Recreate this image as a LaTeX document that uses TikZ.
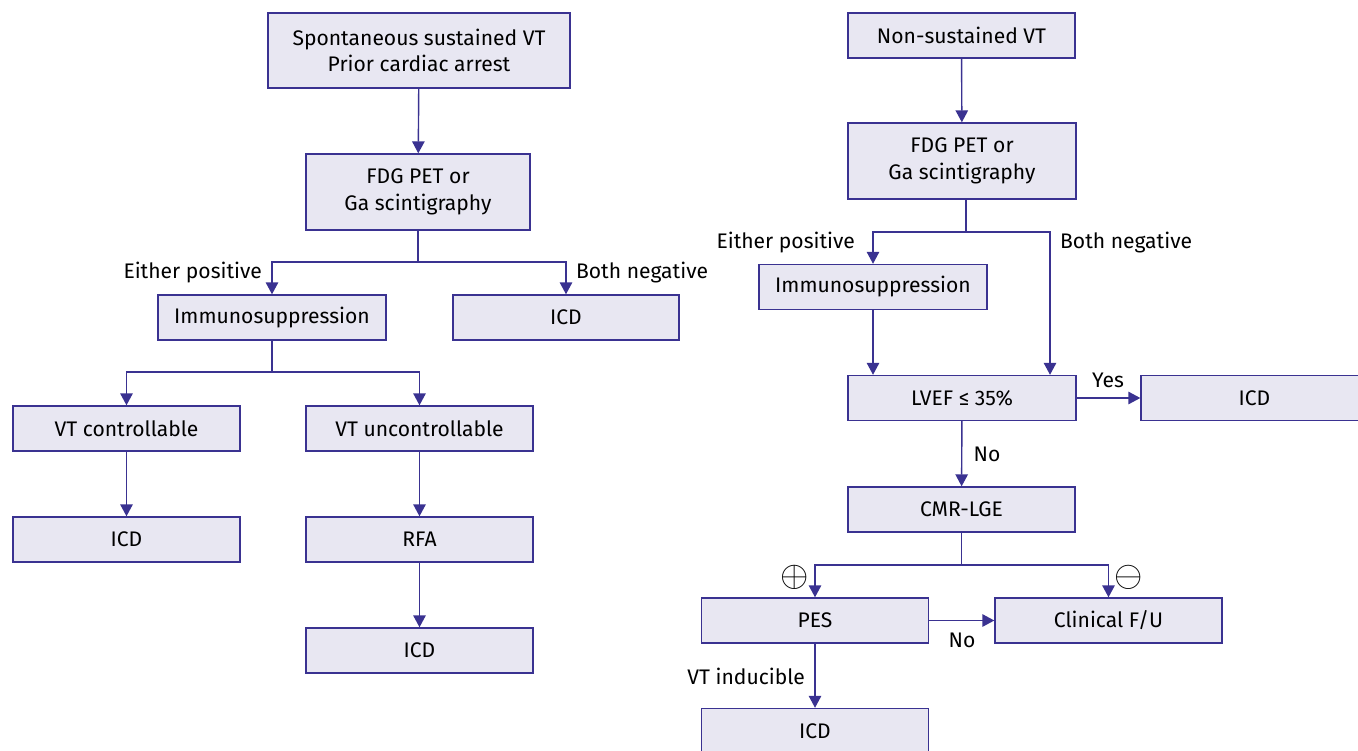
\documentclass[tikz,border=0pt]{standalone}
\usepackage{fontspec}
\setmainfont{Fira Sans}
\usepackage{tikz}
\usetikzlibrary{arrows.meta}

\definecolor{boxline}{RGB}{58,50,145}
\definecolor{boxfill}{RGB}{232,231,242}

\begin{document}
\begin{tikzpicture}[x=0.02cm, y=-0.02cm,
	stepbox/.style={fill=boxfill, draw=boxline, line width=.8pt, minimum width=4.54cm, minimum height=0.9cm, inner sep=0pt, align=center, font=\fontsize{12}{15}\selectfont},
	lbl/.style={font=\fontsize{12}{15}\selectfont, inner sep=1pt},
	arr/.style={draw=boxline, line width=.8pt, -{Triangle[length=0.24cm, width=0.25cm]}},
	ln/.style={draw=boxline, line width=.8pt}]
	\useasboundingbox (0,0) rectangle (1358,750);
	% left branch
	\draw (419,50.5) node[stepbox, minimum width=6.04cm, minimum height=1.5cm] (sust) {Spontaneous sustained VT\\Prior cardiac arrest};
	\draw (418,192) node[stepbox, minimum width=4.48cm, minimum height=1.52cm] (fdgL) {FDG PET or\\Ga scintigraphy};
	\draw (272,317.5) node[stepbox, minimum width=4.56cm] (immL) {Immunosuppression};
	\draw (566,317.5) node[stepbox, minimum width=4.52cm] (icdA) {ICD};
	\draw (126.5,428.5) node[stepbox] (vtc) {VT controllable};
	\draw (419.5,428.5) node[stepbox] (vtu) {VT uncontrollable};
	\draw (126.5,539.5) node[stepbox] (icdB) {ICD};
	\draw (419.5,539.5) node[stepbox] (rfa) {RFA};
	\draw (419.5,650.5) node[stepbox] (icdC) {ICD};
	\coordinate (sL) at (418,262);
	\coordinate (sI) at (272,372);
	\draw (sust) edge[arr] (fdgL);
	\draw[ln] (fdgL) -- (sL);
	\draw[arr] (sL) -| (immL);
	\draw[arr] (sL) -| (icdA);
	\draw[ln] (immL) -- (sI);
	\draw[arr] (sI) -| (vtc);
	\draw[arr] (sI) -| (vtu);
	\draw (vtc) edge[arr] (icdB);
	\draw (vtu) edge[arr] (rfa);
	\draw (rfa) edge[arr] (icdC);
	\draw (264,273) node[lbl, anchor=east] (eposL) {Either positive};
	\draw (574,273) node[lbl, anchor=west] (bnegL) {Both negative};
	% right branch
	\draw (961.5,35.5) node[stepbox] (nsvt) {Non-sustained VT};
	\draw (962,161) node[stepbox, minimum width=4.56cm, minimum height=1.52cm] (fdgR) {FDG PET or\\Ga scintigraphy};
	\draw (873,287) node[stepbox, minimum width=4.56cm] (immR) {Immunosuppression};
	\draw (962,398) node[stepbox, minimum width=4.56cm] (lvef) {LVEF ≤ 35\%};
	\draw (1254.5,398) node[stepbox] (icdD) {ICD};
	\draw (961.5,509.5) node[stepbox] (cmr) {CMR-LGE};
	\draw (815,620.5) node[stepbox] (pes) {PES};
	\draw (1108.5,620.5) node[stepbox] (cfu) {Clinical F/U};
	\draw (815,731) node[stepbox] (icdE) {ICD};
	\coordinate (sR) at (966,232);
	\coordinate (bR) at (1050,232);
	\coordinate (sC) at (961.5,565);
	\draw (nsvt) edge[arr] (fdgR);
	\draw[ln] (fdgR.south -| sR) -- (sR);
	\draw[arr] (sR) -| (immR);
	\draw[arr] (sR) -- (bR) -- (bR |- lvef.north);
	\draw[arr] (immR) -- (immR |- lvef.north);
	\draw (lvef) edge[arr] (icdD);
	\draw (lvef) edge[arr] (cmr);
	\draw[ln] (cmr) -- (sC);
	\draw[arr] (sC) -| (pes);
	\draw[arr] (sC) -| (cfu);
	\draw (pes) edge[arr] (cfu);
	\draw (pes) edge[arr] (icdE);
	\draw (857,243) node[lbl, anchor=east] (eposR) {Either positive};
	\draw (1058,243) node[lbl, anchor=west] (bnegR) {Both negative};
	\draw (1108,380) node[lbl] (yes) {Yes};
	\draw (987,454) node[lbl] (noA) {No};
	\draw (795,577) node[lbl, font=\fontsize{20}{22}\selectfont] (plus) {$\oplus$};
	\draw (1129,577) node[lbl, font=\fontsize{20}{22}\selectfont] (minus) {$\ominus$};
	\draw (962,640) node[lbl] (noB) {No};
	\draw (807,676) node[lbl, anchor=east] (vtind) {VT inducible};
\end{tikzpicture}
\end{document}
